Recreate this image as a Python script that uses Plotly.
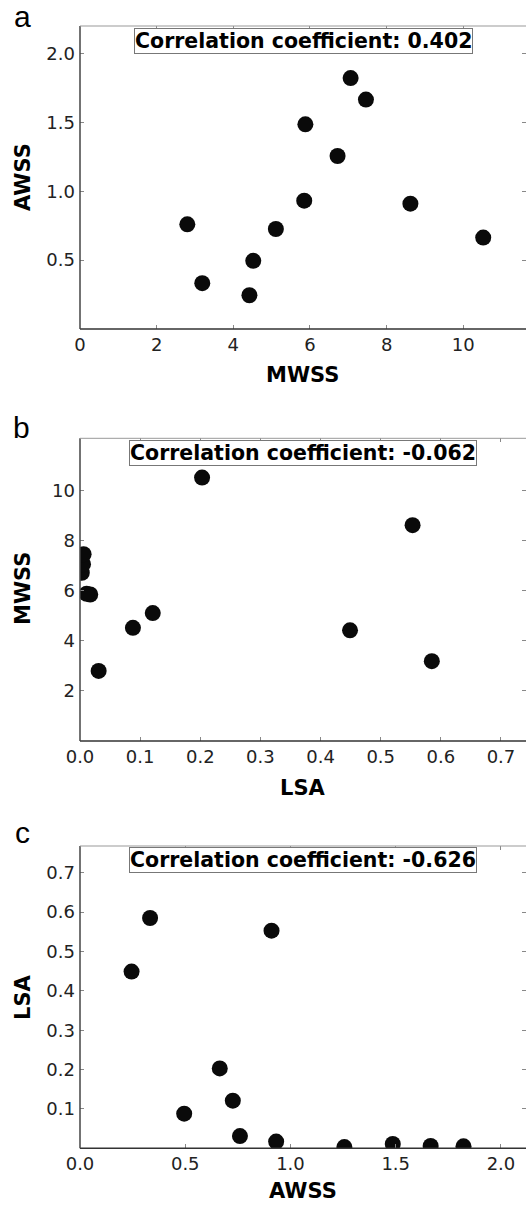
import plotly.graph_objects as go

# Data (12 cases)
mwss = [2.80, 3.19, 4.42, 4.52, 5.11, 5.85, 5.88, 6.72, 7.06, 7.46, 8.62, 10.52]
awss = [0.76, 0.333, 0.245, 0.495, 0.726, 0.932, 1.486, 1.256, 1.822, 1.666, 0.91, 0.664]
lsa = [0.031, 0.585, 0.449, 0.088, 0.121, 0.017, 0.011, 0.003, 0.005, 0.006, 0.553, 0.203]

corr_labels = ["Correlation coefficient: 0.402",
               "Correlation coefficient: -0.062",
               "Correlation coefficient: -0.626"]
panel_letters = ["a", "b", "c"]
x_titles = ["MWSS", "LSA", "AWSS"]
y_titles = ["AWSS", "MWSS", "LSA"]

a_xticks = [0, 2, 4, 6, 8, 10]
a_yticks = [0.5, 1.0, 1.5, 2.0]
b_xticks = [0.0, 0.1, 0.2, 0.3, 0.4, 0.5, 0.6, 0.7]
b_yticks = [2, 4, 6, 8, 10]
c_xticks = [0.0, 0.5, 1.0, 1.5, 2.0]
c_yticks = [0.1, 0.2, 0.3, 0.4, 0.5, 0.6, 0.7]

W, H = 526, 1205
FONT = "DejaVu Sans"


def py(px):
    return 1 - px / H


fig = go.Figure()
pairs = [(mwss, awss), (lsa, mwss), (awss, lsa)]
for i, (xs, ys) in enumerate(pairs):
    sfx = "" if i == 0 else str(i + 1)
    fig.add_trace(go.Scatter(
        x=xs, y=ys, mode="markers",
        marker=dict(size=16, color="#0a0a0a", line=dict(width=0)),
        xaxis="x" + sfx, yaxis="y" + sfx, showlegend=False,
        hoverinfo="skip",
    ))

domains = [(26, 329), (438.3, 741), (846, 1148.3)]
xranges = [[0, 11.636], [0, 0.7416], [0, 2.119]]
yranges = [[0, 2.2], [0, 12.09], [0, 0.768]]
xticks = [a_xticks, b_xticks, c_xticks]
yticks = [a_yticks, b_yticks, c_yticks]
xfmt = ["d", ".1f", ".1f"]
yfmt = [".1f", "d", ".1f"]

axis_common = dict(
    showgrid=False, zeroline=False, showline=False,
    ticks="inside", ticklen=4, tickwidth=1, tickcolor="#888",
    mirror="ticks",
    tickfont=dict(family=FONT, size=18, color="#222"),
)

layout = dict(
    width=W, height=H,
    margin=dict(l=80, r=0, t=0, b=0),
    paper_bgcolor="white", plot_bgcolor="white",
    showlegend=False,
)
shapes = []
annotations = []
for i in range(3):
    sfx = "" if i == 0 else str(i + 1)
    top, bot = domains[i]
    layout["xaxis" + sfx] = dict(
        axis_common, domain=[0, 1], range=xranges[i], tickvals=xticks[i],
        tickformat=xfmt[i], anchor="y" + sfx, ticklabelstandoff=3,
    )
    layout["yaxis" + sfx] = dict(
        axis_common, domain=[py(bot), py(top)], range=yranges[i],
        tickvals=yticks[i], tickformat=yfmt[i], anchor="x" + sfx,
        ticklabelstandoff=4,
    )
    xr = "x" + sfx + " domain"
    yr = "y" + sfx + " domain"
    shapes += [
        dict(type="line", xref=xr, yref=yr, x0=0, x1=1, y0=0, y1=0,
             line=dict(color="#333", width=1.5)),
        dict(type="line", xref=xr, yref=yr, x0=0, x1=0, y0=0, y1=1,
             line=dict(color="#444", width=1.5)),
        dict(type="line", xref=xr, yref=yr, x0=0, x1=1, y0=1, y1=1,
             line=dict(color="#999", width=1)),
    ]

box_centers = [(303, 41), (302.5, 453.3), (302.5, 860.3)]
letter_pos = [(22, 16.5), (21, 427.5), (22, 832.5)]
xtitle_y = [375, 788, None]
ytitle_y = [177, 588, 997]

for i in range(3):
    cx, cy = box_centers[i]
    annotations.append(dict(
        text="<b>" + corr_labels[i] + "</b>", xref="paper", yref="paper",
        x=(cx - 80) / (W - 80), y=py(cy), xanchor="center", yanchor="middle",
        showarrow=False, font=dict(family=FONT, size=20.5, color="#000"),
        bordercolor="#777", borderwidth=1, borderpad=0, bgcolor="white",
    ))
    lx, ly = letter_pos[i]
    annotations.append(dict(
        text=panel_letters[i], xref="paper", yref="paper",
        x=(lx - 80) / (W - 80), y=py(ly), xanchor="center", yanchor="middle",
        showarrow=False, font=dict(family="Liberation Sans", size=30, color="#000"),
    ))
    if xtitle_y[i] is None:
        ty, yanc = 0, "bottom"
    else:
        ty, yanc = py(xtitle_y[i]), "middle"
    annotations.append(dict(
        text="<b>" + x_titles[i] + "</b>", xref="paper", yref="paper",
        x=(302.5 - 80) / (W - 80), y=ty, xanchor="center",
        yanchor=yanc, showarrow=False,
        font=dict(family=FONT, size=21, color="#000"),
    ))
    annotations.append(dict(
        text="<b>" + y_titles[i] + "</b>", xref="paper", yref="paper",
        x=(23 - 80) / (W - 80), y=py(ytitle_y[i]), xanchor="center",
        yanchor="middle", textangle=-90, showarrow=False,
        font=dict(family=FONT, size=21, color="#000"),
    ))

layout["shapes"] = shapes
layout["annotations"] = annotations
fig.update_layout(layout)
fig.write_html("out.html")
